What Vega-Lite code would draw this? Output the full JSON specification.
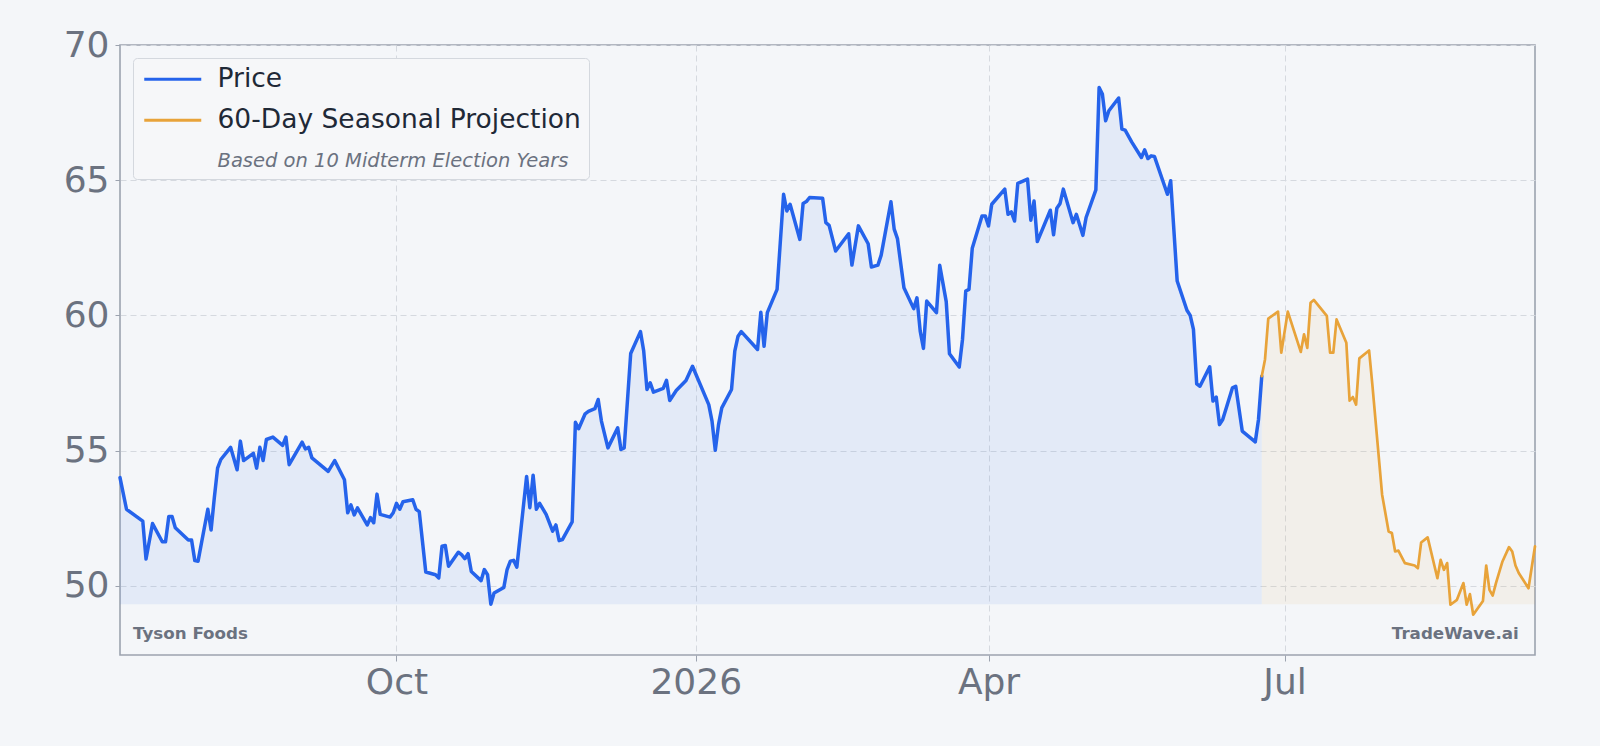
{
  "$schema": "https://vega.github.io/schema/vega-lite/v6.json",
  "width": 1415,
  "height": 610,
  "autosize": {"type": "none"},
  "padding": {"left": 120, "top": 45, "right": 65, "bottom": 91},
  "background": "#f4f6f9",
  "config": {
    "view": {"stroke": "#9ca3af", "strokeWidth": 1.6},
    "font": "DejaVu Sans"
  },
  "layer": [
    {
      "data": {
        "values": [
          {"date": "2025-07-08", "value": 54.0, "series": "Price"},
          {"date": "2025-07-10", "value": 52.83, "series": "Price"},
          {"date": "2025-07-15", "value": 52.39, "series": "Price"},
          {"date": "2025-07-16", "value": 50.99, "series": "Price"},
          {"date": "2025-07-18", "value": 52.3, "series": "Price"},
          {"date": "2025-07-21", "value": 51.63, "series": "Price"},
          {"date": "2025-07-22", "value": 51.63, "series": "Price"},
          {"date": "2025-07-23", "value": 52.56, "series": "Price"},
          {"date": "2025-07-24", "value": 52.56, "series": "Price"},
          {"date": "2025-07-25", "value": 52.15, "series": "Price"},
          {"date": "2025-07-29", "value": 51.69, "series": "Price"},
          {"date": "2025-07-30", "value": 51.69, "series": "Price"},
          {"date": "2025-07-31", "value": 50.93, "series": "Price"},
          {"date": "2025-08-01", "value": 50.91, "series": "Price"},
          {"date": "2025-08-04", "value": 52.83, "series": "Price"},
          {"date": "2025-08-05", "value": 52.06, "series": "Price"},
          {"date": "2025-08-06", "value": 53.26, "series": "Price"},
          {"date": "2025-08-07", "value": 54.35, "series": "Price"},
          {"date": "2025-08-08", "value": 54.67, "series": "Price"},
          {"date": "2025-08-11", "value": 55.12, "series": "Price"},
          {"date": "2025-08-13", "value": 54.29, "series": "Price"},
          {"date": "2025-08-14", "value": 55.35, "series": "Price"},
          {"date": "2025-08-15", "value": 54.63, "series": "Price"},
          {"date": "2025-08-18", "value": 54.9, "series": "Price"},
          {"date": "2025-08-19", "value": 54.35, "series": "Price"},
          {"date": "2025-08-20", "value": 55.12, "series": "Price"},
          {"date": "2025-08-21", "value": 54.63, "series": "Price"},
          {"date": "2025-08-22", "value": 55.41, "series": "Price"},
          {"date": "2025-08-24", "value": 55.5, "series": "Price"},
          {"date": "2025-08-27", "value": 55.19, "series": "Price"},
          {"date": "2025-08-28", "value": 55.5, "series": "Price"},
          {"date": "2025-08-29", "value": 54.48, "series": "Price"},
          {"date": "2025-09-02", "value": 55.31, "series": "Price"},
          {"date": "2025-09-03", "value": 55.06, "series": "Price"},
          {"date": "2025-09-04", "value": 55.12, "series": "Price"},
          {"date": "2025-09-05", "value": 54.73, "series": "Price"},
          {"date": "2025-09-10", "value": 54.23, "series": "Price"},
          {"date": "2025-09-12", "value": 54.63, "series": "Price"},
          {"date": "2025-09-15", "value": 53.92, "series": "Price"},
          {"date": "2025-09-16", "value": 52.7, "series": "Price"},
          {"date": "2025-09-17", "value": 52.99, "series": "Price"},
          {"date": "2025-09-18", "value": 52.62, "series": "Price"},
          {"date": "2025-09-19", "value": 52.88, "series": "Price"},
          {"date": "2025-09-22", "value": 52.25, "series": "Price"},
          {"date": "2025-09-23", "value": 52.52, "series": "Price"},
          {"date": "2025-09-24", "value": 52.33, "series": "Price"},
          {"date": "2025-09-25", "value": 53.39, "series": "Price"},
          {"date": "2025-09-26", "value": 52.64, "series": "Price"},
          {"date": "2025-09-29", "value": 52.54, "series": "Price"},
          {"date": "2025-09-30", "value": 52.7, "series": "Price"},
          {"date": "2025-10-01", "value": 53.05, "series": "Price"},
          {"date": "2025-10-02", "value": 52.83, "series": "Price"},
          {"date": "2025-10-03", "value": 53.11, "series": "Price"},
          {"date": "2025-10-06", "value": 53.18, "series": "Price"},
          {"date": "2025-10-07", "value": 52.83, "series": "Price"},
          {"date": "2025-10-08", "value": 52.74, "series": "Price"},
          {"date": "2025-10-10", "value": 50.51, "series": "Price"},
          {"date": "2025-10-13", "value": 50.41, "series": "Price"},
          {"date": "2025-10-14", "value": 50.29, "series": "Price"},
          {"date": "2025-10-15", "value": 51.46, "series": "Price"},
          {"date": "2025-10-16", "value": 51.49, "series": "Price"},
          {"date": "2025-10-17", "value": 50.72, "series": "Price"},
          {"date": "2025-10-20", "value": 51.24, "series": "Price"},
          {"date": "2025-10-21", "value": 51.15, "series": "Price"},
          {"date": "2025-10-22", "value": 51.0, "series": "Price"},
          {"date": "2025-10-23", "value": 51.19, "series": "Price"},
          {"date": "2025-10-24", "value": 50.53, "series": "Price"},
          {"date": "2025-10-27", "value": 50.19, "series": "Price"},
          {"date": "2025-10-28", "value": 50.6, "series": "Price"},
          {"date": "2025-10-29", "value": 50.41, "series": "Price"},
          {"date": "2025-10-30", "value": 49.32, "series": "Price"},
          {"date": "2025-10-31", "value": 49.73, "series": "Price"},
          {"date": "2025-11-03", "value": 49.94, "series": "Price"},
          {"date": "2025-11-04", "value": 50.6, "series": "Price"},
          {"date": "2025-11-05", "value": 50.91, "series": "Price"},
          {"date": "2025-11-06", "value": 50.94, "series": "Price"},
          {"date": "2025-11-07", "value": 50.69, "series": "Price"},
          {"date": "2025-11-10", "value": 54.04, "series": "Price"},
          {"date": "2025-11-11", "value": 52.89, "series": "Price"},
          {"date": "2025-11-12", "value": 54.09, "series": "Price"},
          {"date": "2025-11-13", "value": 52.83, "series": "Price"},
          {"date": "2025-11-14", "value": 53.05, "series": "Price"},
          {"date": "2025-11-16", "value": 52.64, "series": "Price"},
          {"date": "2025-11-18", "value": 52.02, "series": "Price"},
          {"date": "2025-11-19", "value": 52.25, "series": "Price"},
          {"date": "2025-11-20", "value": 51.67, "series": "Price"},
          {"date": "2025-11-21", "value": 51.71, "series": "Price"},
          {"date": "2025-11-24", "value": 52.36, "series": "Price"},
          {"date": "2025-11-25", "value": 56.05, "series": "Price"},
          {"date": "2025-11-26", "value": 55.81, "series": "Price"},
          {"date": "2025-11-28", "value": 56.36, "series": "Price"},
          {"date": "2025-11-29", "value": 56.45, "series": "Price"},
          {"date": "2025-12-01", "value": 56.55, "series": "Price"},
          {"date": "2025-12-02", "value": 56.89, "series": "Price"},
          {"date": "2025-12-03", "value": 56.09, "series": "Price"},
          {"date": "2025-12-05", "value": 55.1, "series": "Price"},
          {"date": "2025-12-08", "value": 55.84, "series": "Price"},
          {"date": "2025-12-09", "value": 55.04, "series": "Price"},
          {"date": "2025-12-10", "value": 55.1, "series": "Price"},
          {"date": "2025-12-12", "value": 58.59, "series": "Price"},
          {"date": "2025-12-15", "value": 59.4, "series": "Price"},
          {"date": "2025-12-16", "value": 58.68, "series": "Price"},
          {"date": "2025-12-17", "value": 57.26, "series": "Price"},
          {"date": "2025-12-18", "value": 57.51, "series": "Price"},
          {"date": "2025-12-19", "value": 57.16, "series": "Price"},
          {"date": "2025-12-22", "value": 57.3, "series": "Price"},
          {"date": "2025-12-23", "value": 57.6, "series": "Price"},
          {"date": "2025-12-24", "value": 56.85, "series": "Price"},
          {"date": "2025-12-26", "value": 57.22, "series": "Price"},
          {"date": "2025-12-29", "value": 57.59, "series": "Price"},
          {"date": "2025-12-31", "value": 58.12, "series": "Price"},
          {"date": "2026-01-05", "value": 56.7, "series": "Price"},
          {"date": "2026-01-06", "value": 56.09, "series": "Price"},
          {"date": "2026-01-07", "value": 55.01, "series": "Price"},
          {"date": "2026-01-08", "value": 55.96, "series": "Price"},
          {"date": "2026-01-09", "value": 56.58, "series": "Price"},
          {"date": "2026-01-12", "value": 57.26, "series": "Price"},
          {"date": "2026-01-13", "value": 58.68, "series": "Price"},
          {"date": "2026-01-14", "value": 59.23, "series": "Price"},
          {"date": "2026-01-15", "value": 59.4, "series": "Price"},
          {"date": "2026-01-20", "value": 58.74, "series": "Price"},
          {"date": "2026-01-21", "value": 60.12, "series": "Price"},
          {"date": "2026-01-22", "value": 58.86, "series": "Price"},
          {"date": "2026-01-23", "value": 60.1, "series": "Price"},
          {"date": "2026-01-26", "value": 60.96, "series": "Price"},
          {"date": "2026-01-28", "value": 64.48, "series": "Price"},
          {"date": "2026-01-29", "value": 63.86, "series": "Price"},
          {"date": "2026-01-30", "value": 64.11, "series": "Price"},
          {"date": "2026-02-02", "value": 62.81, "series": "Price"},
          {"date": "2026-02-03", "value": 64.14, "series": "Price"},
          {"date": "2026-02-04", "value": 64.21, "series": "Price"},
          {"date": "2026-02-05", "value": 64.36, "series": "Price"},
          {"date": "2026-02-09", "value": 64.33, "series": "Price"},
          {"date": "2026-02-10", "value": 63.43, "series": "Price"},
          {"date": "2026-02-11", "value": 63.33, "series": "Price"},
          {"date": "2026-02-13", "value": 62.38, "series": "Price"},
          {"date": "2026-02-17", "value": 63.02, "series": "Price"},
          {"date": "2026-02-18", "value": 61.86, "series": "Price"},
          {"date": "2026-02-20", "value": 63.31, "series": "Price"},
          {"date": "2026-02-23", "value": 62.65, "series": "Price"},
          {"date": "2026-02-24", "value": 61.79, "series": "Price"},
          {"date": "2026-02-26", "value": 61.86, "series": "Price"},
          {"date": "2026-02-27", "value": 62.23, "series": "Price"},
          {"date": "2026-03-02", "value": 64.2, "series": "Price"},
          {"date": "2026-03-03", "value": 63.19, "series": "Price"},
          {"date": "2026-03-04", "value": 62.84, "series": "Price"},
          {"date": "2026-03-06", "value": 61.02, "series": "Price"},
          {"date": "2026-03-09", "value": 60.25, "series": "Price"},
          {"date": "2026-03-10", "value": 60.65, "series": "Price"},
          {"date": "2026-03-11", "value": 59.42, "series": "Price"},
          {"date": "2026-03-12", "value": 58.78, "series": "Price"},
          {"date": "2026-03-13", "value": 60.53, "series": "Price"},
          {"date": "2026-03-16", "value": 60.1, "series": "Price"},
          {"date": "2026-03-17", "value": 61.85, "series": "Price"},
          {"date": "2026-03-19", "value": 60.51, "series": "Price"},
          {"date": "2026-03-20", "value": 58.58, "series": "Price"},
          {"date": "2026-03-23", "value": 58.09, "series": "Price"},
          {"date": "2026-03-24", "value": 59.11, "series": "Price"},
          {"date": "2026-03-25", "value": 60.9, "series": "Price"},
          {"date": "2026-03-26", "value": 60.96, "series": "Price"},
          {"date": "2026-03-27", "value": 62.48, "series": "Price"},
          {"date": "2026-03-30", "value": 63.68, "series": "Price"},
          {"date": "2026-03-31", "value": 63.68, "series": "Price"},
          {"date": "2026-04-01", "value": 63.31, "series": "Price"},
          {"date": "2026-04-02", "value": 64.11, "series": "Price"},
          {"date": "2026-04-06", "value": 64.67, "series": "Price"},
          {"date": "2026-04-07", "value": 63.74, "series": "Price"},
          {"date": "2026-04-08", "value": 63.83, "series": "Price"},
          {"date": "2026-04-09", "value": 63.49, "series": "Price"},
          {"date": "2026-04-10", "value": 64.88, "series": "Price"},
          {"date": "2026-04-13", "value": 65.04, "series": "Price"},
          {"date": "2026-04-14", "value": 63.52, "series": "Price"},
          {"date": "2026-04-15", "value": 64.23, "series": "Price"},
          {"date": "2026-04-16", "value": 62.73, "series": "Price"},
          {"date": "2026-04-20", "value": 63.89, "series": "Price"},
          {"date": "2026-04-21", "value": 62.98, "series": "Price"},
          {"date": "2026-04-22", "value": 63.96, "series": "Price"},
          {"date": "2026-04-23", "value": 64.14, "series": "Price"},
          {"date": "2026-04-24", "value": 64.67, "series": "Price"},
          {"date": "2026-04-27", "value": 63.43, "series": "Price"},
          {"date": "2026-04-28", "value": 63.74, "series": "Price"},
          {"date": "2026-04-30", "value": 62.96, "series": "Price"},
          {"date": "2026-05-01", "value": 63.62, "series": "Price"},
          {"date": "2026-05-04", "value": 64.64, "series": "Price"},
          {"date": "2026-05-05", "value": 68.43, "series": "Price"},
          {"date": "2026-05-06", "value": 68.19, "series": "Price"},
          {"date": "2026-05-07", "value": 67.2, "series": "Price"},
          {"date": "2026-05-08", "value": 67.57, "series": "Price"},
          {"date": "2026-05-11", "value": 68.04, "series": "Price"},
          {"date": "2026-05-12", "value": 66.89, "series": "Price"},
          {"date": "2026-05-13", "value": 66.85, "series": "Price"},
          {"date": "2026-05-15", "value": 66.42, "series": "Price"},
          {"date": "2026-05-18", "value": 65.84, "series": "Price"},
          {"date": "2026-05-19", "value": 66.12, "series": "Price"},
          {"date": "2026-05-20", "value": 65.8, "series": "Price"},
          {"date": "2026-05-21", "value": 65.9, "series": "Price"},
          {"date": "2026-05-22", "value": 65.88, "series": "Price"},
          {"date": "2026-05-26", "value": 64.48, "series": "Price"},
          {"date": "2026-05-27", "value": 64.98, "series": "Price"},
          {"date": "2026-05-29", "value": 61.27, "series": "Price"},
          {"date": "2026-06-01", "value": 60.19, "series": "Price"},
          {"date": "2026-06-02", "value": 60.0, "series": "Price"},
          {"date": "2026-06-03", "value": 59.48, "series": "Price"},
          {"date": "2026-06-04", "value": 57.47, "series": "Price"},
          {"date": "2026-06-05", "value": 57.38, "series": "Price"},
          {"date": "2026-06-08", "value": 58.1, "series": "Price"},
          {"date": "2026-06-09", "value": 56.83, "series": "Price"},
          {"date": "2026-06-10", "value": 56.98, "series": "Price"},
          {"date": "2026-06-11", "value": 55.96, "series": "Price"},
          {"date": "2026-06-12", "value": 56.15, "series": "Price"},
          {"date": "2026-06-15", "value": 57.32, "series": "Price"},
          {"date": "2026-06-16", "value": 57.38, "series": "Price"},
          {"date": "2026-06-18", "value": 55.72, "series": "Price"},
          {"date": "2026-06-22", "value": 55.32, "series": "Price"},
          {"date": "2026-06-23", "value": 56.15, "series": "Price"},
          {"date": "2026-06-24", "value": 57.75, "series": "Price"},
          {"date": "2026-06-24", "value": 57.75, "series": "60-Day Seasonal Projection"},
          {"date": "2026-06-25", "value": 58.37, "series": "60-Day Seasonal Projection"},
          {"date": "2026-06-26", "value": 59.88, "series": "60-Day Seasonal Projection"},
          {"date": "2026-06-29", "value": 60.14, "series": "60-Day Seasonal Projection"},
          {"date": "2026-06-30", "value": 58.62, "series": "60-Day Seasonal Projection"},
          {"date": "2026-07-02", "value": 60.14, "series": "60-Day Seasonal Projection"},
          {"date": "2026-07-06", "value": 58.65, "series": "60-Day Seasonal Projection"},
          {"date": "2026-07-07", "value": 59.3, "series": "60-Day Seasonal Projection"},
          {"date": "2026-07-08", "value": 58.8, "series": "60-Day Seasonal Projection"},
          {"date": "2026-07-09", "value": 60.47, "series": "60-Day Seasonal Projection"},
          {"date": "2026-07-10", "value": 60.57, "series": "60-Day Seasonal Projection"},
          {"date": "2026-07-14", "value": 59.98, "series": "60-Day Seasonal Projection"},
          {"date": "2026-07-15", "value": 58.62, "series": "60-Day Seasonal Projection"},
          {"date": "2026-07-16", "value": 58.62, "series": "60-Day Seasonal Projection"},
          {"date": "2026-07-17", "value": 59.85, "series": "60-Day Seasonal Projection"},
          {"date": "2026-07-20", "value": 58.99, "series": "60-Day Seasonal Projection"},
          {"date": "2026-07-21", "value": 56.85, "series": "60-Day Seasonal Projection"},
          {"date": "2026-07-22", "value": 56.98, "series": "60-Day Seasonal Projection"},
          {"date": "2026-07-23", "value": 56.7, "series": "60-Day Seasonal Projection"},
          {"date": "2026-07-24", "value": 58.41, "series": "60-Day Seasonal Projection"},
          {"date": "2026-07-27", "value": 58.7, "series": "60-Day Seasonal Projection"},
          {"date": "2026-07-28", "value": 57.44, "series": "60-Day Seasonal Projection"},
          {"date": "2026-07-31", "value": 53.37, "series": "60-Day Seasonal Projection"},
          {"date": "2026-08-02", "value": 52.01, "series": "60-Day Seasonal Projection"},
          {"date": "2026-08-03", "value": 51.95, "series": "60-Day Seasonal Projection"},
          {"date": "2026-08-04", "value": 51.27, "series": "60-Day Seasonal Projection"},
          {"date": "2026-08-05", "value": 51.3, "series": "60-Day Seasonal Projection"},
          {"date": "2026-08-07", "value": 50.84, "series": "60-Day Seasonal Projection"},
          {"date": "2026-08-10", "value": 50.75, "series": "60-Day Seasonal Projection"},
          {"date": "2026-08-11", "value": 50.65, "series": "60-Day Seasonal Projection"},
          {"date": "2026-08-12", "value": 51.6, "series": "60-Day Seasonal Projection"},
          {"date": "2026-08-14", "value": 51.79, "series": "60-Day Seasonal Projection"},
          {"date": "2026-08-17", "value": 50.28, "series": "60-Day Seasonal Projection"},
          {"date": "2026-08-18", "value": 50.96, "series": "60-Day Seasonal Projection"},
          {"date": "2026-08-19", "value": 50.59, "series": "60-Day Seasonal Projection"},
          {"date": "2026-08-20", "value": 50.84, "series": "60-Day Seasonal Projection"},
          {"date": "2026-08-21", "value": 49.3, "series": "60-Day Seasonal Projection"},
          {"date": "2026-08-23", "value": 49.48, "series": "60-Day Seasonal Projection"},
          {"date": "2026-08-25", "value": 50.1, "series": "60-Day Seasonal Projection"},
          {"date": "2026-08-26", "value": 49.3, "series": "60-Day Seasonal Projection"},
          {"date": "2026-08-27", "value": 49.69, "series": "60-Day Seasonal Projection"},
          {"date": "2026-08-28", "value": 48.93, "series": "60-Day Seasonal Projection"},
          {"date": "2026-08-31", "value": 49.44, "series": "60-Day Seasonal Projection"},
          {"date": "2026-09-01", "value": 50.75, "series": "60-Day Seasonal Projection"},
          {"date": "2026-09-02", "value": 49.85, "series": "60-Day Seasonal Projection"},
          {"date": "2026-09-03", "value": 49.64, "series": "60-Day Seasonal Projection"},
          {"date": "2026-09-04", "value": 50.1, "series": "60-Day Seasonal Projection"},
          {"date": "2026-09-06", "value": 50.9, "series": "60-Day Seasonal Projection"},
          {"date": "2026-09-08", "value": 51.43, "series": "60-Day Seasonal Projection"},
          {"date": "2026-09-09", "value": 51.27, "series": "60-Day Seasonal Projection"},
          {"date": "2026-09-10", "value": 50.75, "series": "60-Day Seasonal Projection"},
          {"date": "2026-09-11", "value": 50.47, "series": "60-Day Seasonal Projection"},
          {"date": "2026-09-14", "value": 49.91, "series": "60-Day Seasonal Projection"},
          {"date": "2026-09-16", "value": 51.46, "series": "60-Day Seasonal Projection"}
        ]
      },
      "encoding": {
        "x": {
          "field": "date",
          "type": "temporal",
          "scale": {
            "type": "utc",
            "domain": [
              {"year": 2025, "month": 7, "date": 8, "utc": true},
              {"year": 2026, "month": 9, "date": 16, "utc": true}
            ]
          },
          "axis": {
            "title": null,
            "values": [
              {"year": 2025, "month": 10, "date": 1, "utc": true},
              {"year": 2026, "month": 1, "date": 1, "utc": true},
              {"year": 2026, "month": 4, "date": 1, "utc": true},
              {"year": 2026, "month": 7, "date": 1, "utc": true}
            ],
            "labelExpr": "utcmonth(datum.value) === 0 ? utcFormat(datum.value, '%Y') : utcFormat(datum.value, '%b')",
            "domain": false,
            "grid": true,
            "gridColor": "#d5d9df",
            "gridDash": [6, 4],
            "gridWidth": 1,
            "ticks": true,
            "tickColor": "#9ca3af",
            "tickSize": 6,
            "labelFont": "DejaVu Sans",
            "labelFontSize": 36,
            "labelColor": "#6b7280",
            "labelPadding": 4,
            "labelFlush": false,
            "labelOverlap": false
          }
        },
        "y": {
          "field": "value",
          "type": "quantitative",
          "scale": {"domain": [47.44, 70], "nice": false, "zero": false},
          "axis": {
            "title": null,
            "values": [50, 55, 60, 65, 70],
            "domain": false,
            "grid": true,
            "gridColor": "#d5d9df",
            "gridDash": [6, 4],
            "gridWidth": 1,
            "tickColor": "#9ca3af",
            "tickSize": 5,
            "labelFont": "DejaVu Sans",
            "labelFontSize": 36,
            "labelColor": "#6b7280",
            "labelPadding": 6,
            "labelFlush": false,
            "labelOverlap": false
          }
        }
      },
      "layer": [
        {
          "transform": [{"filter": "datum.series === 'Price'"}],
          "mark": {"type": "area", "color": "#2563eb", "opacity": 0.08},
          "encoding": {"y2": {"datum": 49.32}}
        },
        {
          "transform": [{"filter": "datum.series === '60-Day Seasonal Projection'"}],
          "mark": {"type": "area", "color": "#e8a33a", "opacity": 0.08},
          "encoding": {"y2": {"datum": 49.32}}
        },
        {
          "mark": {"type": "line", "strokeJoin": "round", "strokeCap": "round"},
          "encoding": {
            "color": {
              "field": "series",
              "type": "nominal",
              "scale": {
                "domain": ["Price", "60-Day Seasonal Projection", "Based on 10 Midterm Election Years"],
                "range": ["#2563eb", "#e8a33a", "transparent"]
              },
              "legend": {
                "title": null,
                "orient": "top-left",
                "offset": 13,
                "padding": 8,
                "fillColor": "#f6f7f9",
                "strokeColor": "#d4d8de",
                "cornerRadius": 4,
                "symbolType": "M-1,0L4.7,0",
                "symbolSize": 400,
                "symbolStrokeWidth": 3,
                "labelFont": "DejaVu Sans",
                "labelFontSize": 26.5,
                "labelColor": "#1f2937",
                "labelOffset": 50,
                "labelLimit": 800,
                "rowPadding": 14,
                "encode": {
                  "labels": {
                    "update": {
                      "fontStyle": {"signal": "datum.label === 'Based on 10 Midterm Election Years' ? 'italic' : 'normal'"},
                      "fontSize": {"signal": "datum.label === 'Based on 10 Midterm Election Years' ? 19.5 : 26.5"},
                      "fill": {"signal": "datum.label === 'Based on 10 Midterm Election Years' ? '#6b7280' : '#1f2937'"}
                    }
                  }
                }
              }
            },
            "strokeWidth": {
              "condition": {"test": "datum.series === 'Price'", "value": 3.5},
              "value": 2.7
            }
          }
        }
      ]
    },
    {
      "data": {"values": [{"label": "Tyson Foods", "side": "left"}, {"label": "TradeWave.ai", "side": "right"}]},
      "transform": [{"filter": "datum.side === 'left'"}],
      "mark": {"type": "text", "align": "left", "baseline": "middle", "font": "DejaVu Sans", "fontWeight": "bold", "fontSize": 16.7, "fill": "#6b7280"},
      "encoding": {
        "x": {"datum": {"year": 2025, "month": 7, "date": 12, "utc": true}, "type": "temporal"},
        "y": {"datum": 48.22, "type": "quantitative"},
        "text": {"field": "label", "type": "nominal"}
      }
    },
    {
      "data": {"values": [{"label": "Tyson Foods", "side": "left"}, {"label": "TradeWave.ai", "side": "right"}]},
      "transform": [{"filter": "datum.side === 'right'"}],
      "mark": {"type": "text", "align": "right", "baseline": "middle", "font": "DejaVu Sans", "fontWeight": "bold", "fontSize": 16.7, "fill": "#6b7280"},
      "encoding": {
        "x": {"datum": {"year": 2026, "month": 9, "date": 11, "utc": true}, "type": "temporal"},
        "y": {"datum": 48.22, "type": "quantitative"},
        "text": {"field": "label", "type": "nominal"}
      }
    }
  ]
}
